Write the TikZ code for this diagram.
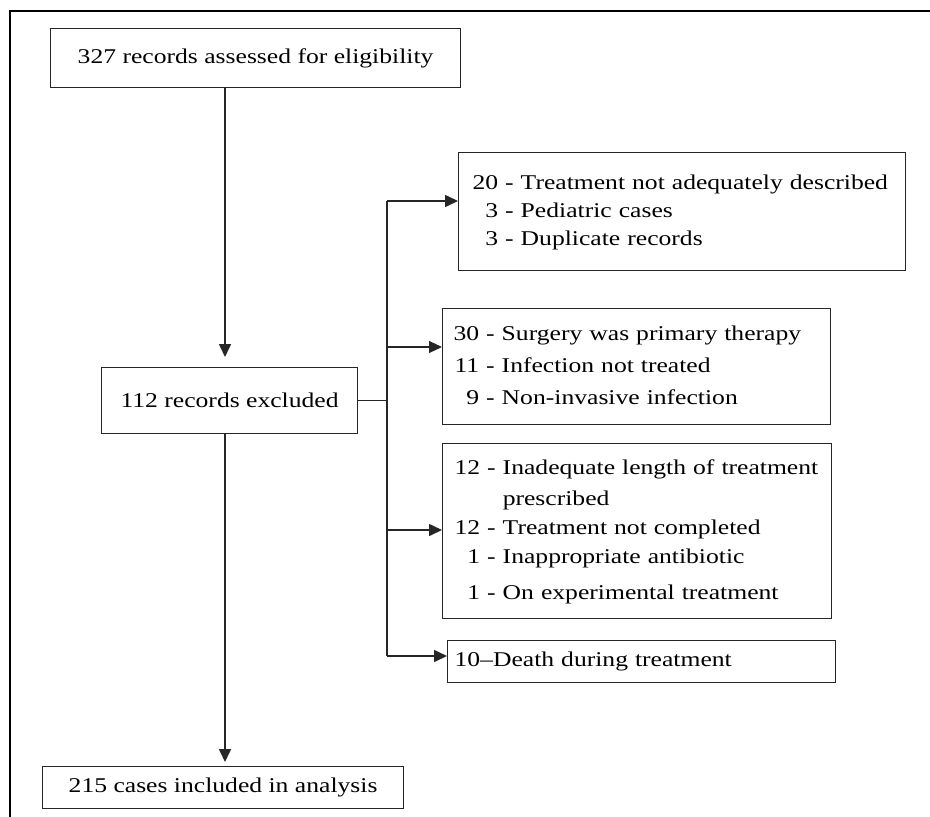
\documentclass[tikz,border=0pt]{standalone}
\usepackage{fontspec}
\setmainfont[FakeStretch=1.22]{Liberation Serif}
\usetikzlibrary{arrows.meta}
\begin{document}
\begin{tikzpicture}[x=1pt,y=-1pt,
  box/.style={draw=black!85, line width=1.2pt, inner sep=0pt, font=\fontsize{21}{28}\selectfont},
  lbox/.style={box, align=left, inner xsep=0pt},
  ln/.style={line width=1.6pt, draw=black!85},
  arr/.style={ln, -{Triangle[length=13pt,width=12pt]}}]
\useasboundingbox (0,0) rectangle (930,817);
% outer frame
\draw[line width=2.5pt] (10,817) -- (10,11) -- (930,11);
% main column
\node[box, anchor=north west, minimum width=410pt, minimum height=59pt] (b1) at (50,28) {327 records assessed for eligibility};
\node[box, anchor=north west, minimum width=256pt, minimum height=66pt] (b2) at (101,367) {112 records excluded};
\node[box, anchor=north west, minimum width=361pt, minimum height=42pt] (b3) at (42,766) {215 cases included in analysis};
% exclusion boxes
\node[lbox, anchor=north west, text width=447pt, minimum height=118pt] (ea) at (458,152)
  {\begin{tabular}{@{\hspace{14pt}}r@{\ -\ }l}
   20 & Treatment not adequately described\\
   3 & Pediatric cases\\
   3 & Duplicate records
   \end{tabular}};
\node[lbox, anchor=north west, text width=388pt, minimum height=116pt] (eb) at (442,308)
  {\begin{tabular}{@{\hspace{11pt}}r@{\ -\ }l}
   30 & Surgery was primary therapy\\[4pt]
   11 & Infection not treated\\[4pt]
   9 & Non-invasive infection
   \end{tabular}};
\node[lbox, anchor=north west, text width=389pt, minimum height=175pt] (ec) at (442,443)
  {\begin{tabular}{@{\hspace{12pt}}r@{}l@{}l}
   12 & \ -\ \mbox{} & Inadequate length of treatment\\[3pt]
      &      & prescribed\\[1pt]
   12 & \ -\ \mbox{} & Treatment not completed\\[1pt]
   1 & \ -\ \mbox{} & Inappropriate antibiotic\\[8pt]
   1 & \ -\ \mbox{} & On experimental treatment
   \end{tabular}};
\node[lbox, anchor=north west, text width=388pt, minimum height=42pt] (ed) at (447,640)
  {\hspace{7pt}10–Death during treatment};
% connectors
\coordinate (tx) at (225,0);
\coordinate (bt) at (387,201);
\coordinate (bB) at (387,347);
\coordinate (bC) at (387,530);
\coordinate (bb) at (387,656);
\draw[arr, shorten >=10pt] (b1.south -| tx) -- (b2.north -| tx);
\draw[arr, shorten >=4pt] (b2.south -| tx) -- (b3.north -| tx);
\draw[ln] (b2.east) -- (b2.east -| bt);
\draw[ln] (bt) -- (bb);
\draw[arr] (bt) -- (bt -| ea.west);
\draw[arr, line width=1.1pt] (bB) -- (bB -| eb.west);
\draw[arr] (bC) -- (bC -| ec.west);
\draw[arr] (bb) -- (bb -| ed.west);
\end{tikzpicture}
\end{document}
